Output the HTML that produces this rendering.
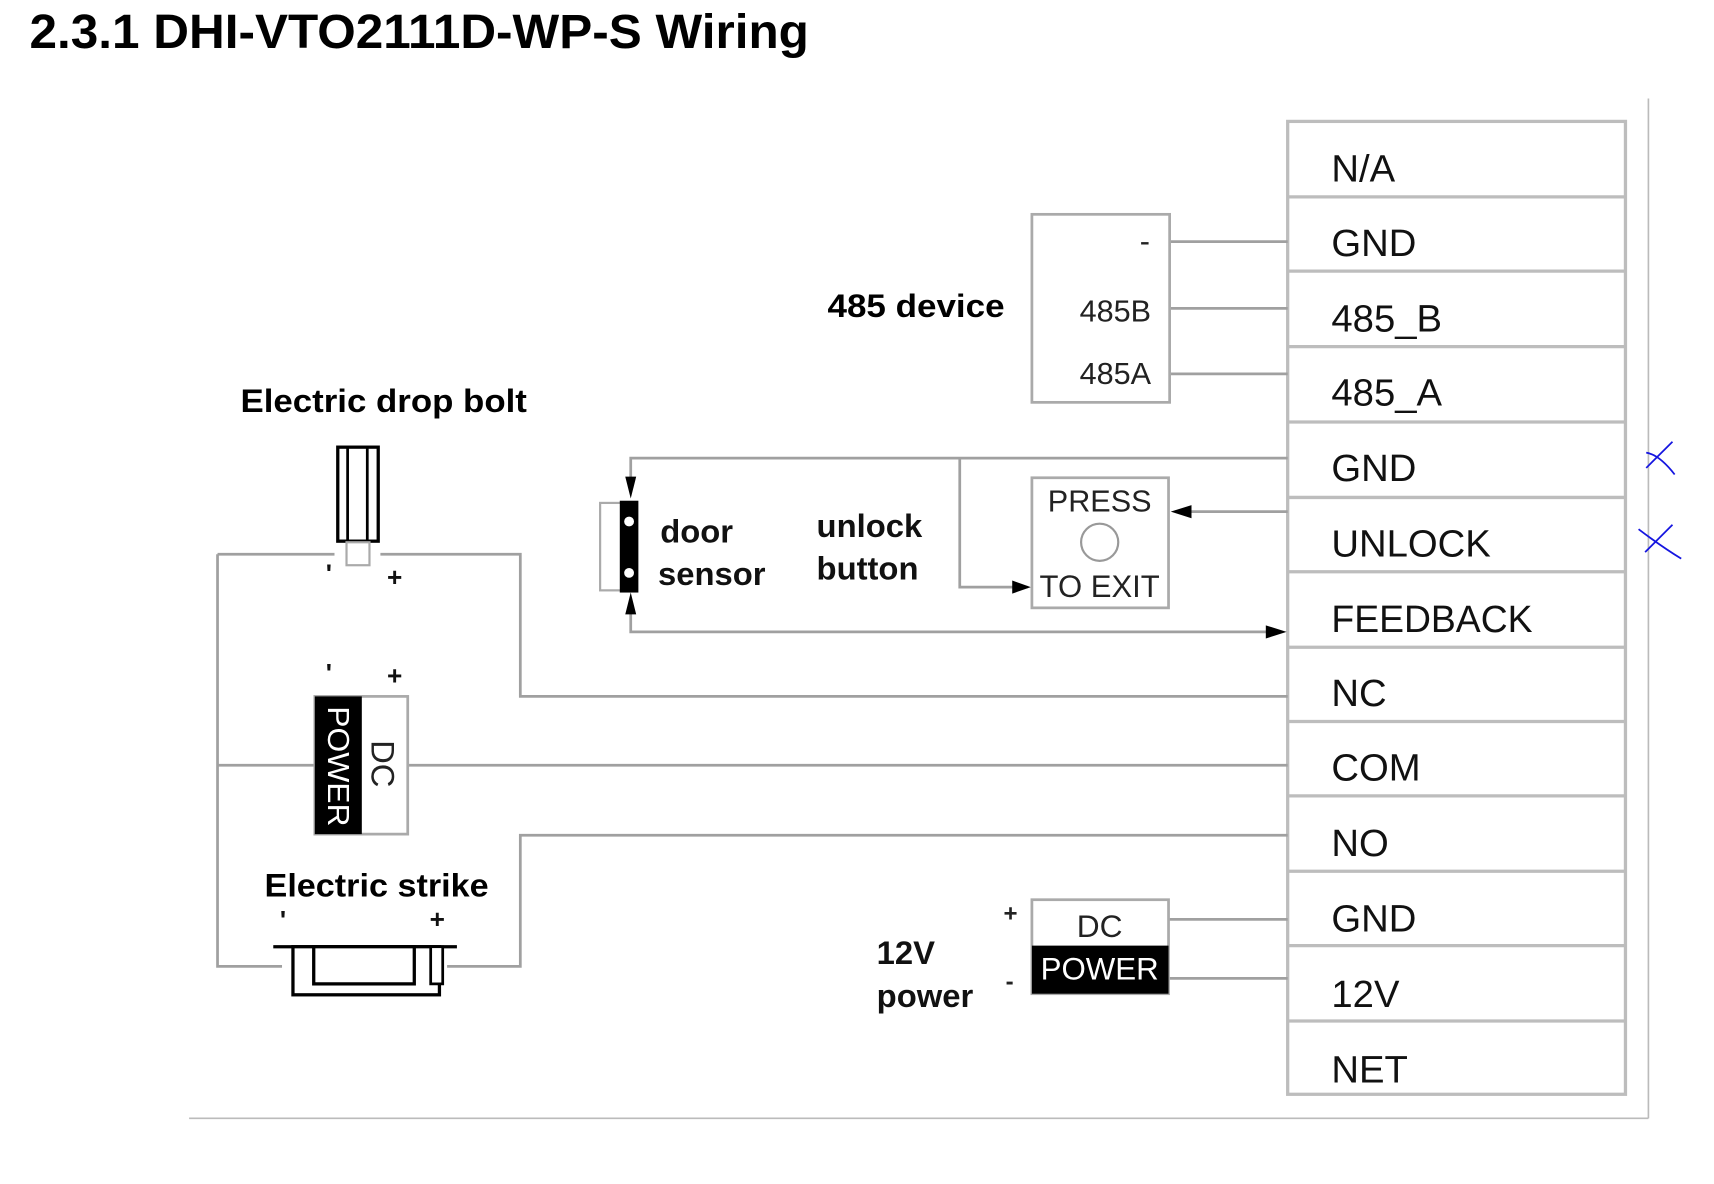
<!DOCTYPE html>
<html><head><meta charset="utf-8"><style>
html,body{margin:0;padding:0;background:#fff;}
svg{display:block;}
text{font-family:"Liberation Sans",sans-serif;}
</style></head><body>
<svg width="1714" height="1184" viewBox="0 0 1568 1083" xmlns="http://www.w3.org/2000/svg">
<text x="27" y="44" font-size="44" font-weight="bold" textLength="713" lengthAdjust="spacingAndGlyphs">2.3.1 DHI-VTO2111D-WP-S Wiring</text>

<g stroke="#bbb" stroke-width="1.5" fill="none">
<line x1="1508" y1="90" x2="1508" y2="1023"/>
<line x1="173" y1="1023" x2="1508" y2="1023"/>
</g>

<g stroke="#bdbdbd" stroke-width="3" fill="none">
<rect x="1178" y="111" width="309" height="890"/>
<line x1="1178" y1="180" x2="1487" y2="180"/>
<line x1="1178" y1="248" x2="1487" y2="248"/>
<line x1="1178" y1="317" x2="1487" y2="317"/>
<line x1="1178" y1="386" x2="1487" y2="386"/>
<line x1="1178" y1="455" x2="1487" y2="455"/>
<line x1="1178" y1="523" x2="1487" y2="523"/>
<line x1="1178" y1="592" x2="1487" y2="592"/>
<line x1="1178" y1="660" x2="1487" y2="660"/>
<line x1="1178" y1="728" x2="1487" y2="728"/>
<line x1="1178" y1="797" x2="1487" y2="797"/>
<line x1="1178" y1="865" x2="1487" y2="865"/>
<line x1="1178" y1="934" x2="1487" y2="934"/>
</g>
<g font-size="35" fill="#111">
<text x="1218" y="166">N/A</text>
<text x="1218" y="234">GND</text>
<text x="1218" y="303">485_B</text>
<text x="1218" y="371">485_A</text>
<text x="1218" y="440">GND</text>
<text x="1218" y="509">UNLOCK</text>
<text x="1218" y="578" textLength="184" lengthAdjust="spacingAndGlyphs">FEEDBACK</text>
<text x="1218" y="646">NC</text>
<text x="1218" y="714">COM</text>
<text x="1218" y="783">NO</text>
<text x="1218" y="852">GND</text>
<text x="1218" y="921">12V</text>
<text x="1218" y="990">NET</text>
</g>
<g stroke="#1515e0" stroke-width="1.6" fill="none">
<path d="M1530,404 L1506,428"/><path d="M1506,414 Q1518,416 1532,434"/>
<path d="M1530,480 L1505,505"/><path d="M1499,484 Q1520,500 1538,511"/>
</g>

<g stroke="#a0a0a0" stroke-width="2.5" fill="none">
<line x1="1070" y1="221" x2="1178" y2="221"/>
<line x1="1070" y1="282" x2="1178" y2="282"/>
<line x1="1070" y1="342" x2="1178" y2="342"/>
<polyline points="577,440 577,419 1178,419"/>
<polyline points="878,419 878,537 940,537"/>
<line x1="1178" y1="468" x2="1075" y2="468"/>
<polyline points="577,558 577,578 1172,578"/>
<polyline points="199,507 306,507"/>
<polyline points="348,507 476,507 476,637 1178,637"/>
<polyline points="199,507 199,884 258,884"/>
<line x1="199" y1="700" x2="288" y2="700"/>
<line x1="373" y1="700" x2="1178" y2="700"/>
<polyline points="409,884 476,884 476,764 1178,764"/>
<line x1="1069" y1="841" x2="1178" y2="841"/>
<line x1="1069" y1="895" x2="1178" y2="895"/>
</g>
<g fill="#000">
<path d="M1071,468 L1090,462 L1090,474 z"/>
<path d="M943,537 L926,531 L926,543 z"/>
<path d="M1177,578 L1158,572 L1158,584 z"/>
<path d="M577,456 L572,436 L582,436 z"/>
<path d="M577,542 L572,562 L582,562 z"/>
</g>

<rect x="944" y="196" width="126" height="172" fill="#fff" stroke="#aaa" stroke-width="2.5"/>
<g font-size="28" fill="#222" text-anchor="end">
<text x="1052" y="230">-</text>
<text x="1053" y="294">485B</text>
<text x="1053" y="351">485A</text>
</g>
<text x="757" y="290" font-size="30" font-weight="bold" textLength="162" lengthAdjust="spacingAndGlyphs">485 device</text>

<rect x="944" y="437" width="125" height="119" fill="#fff" stroke="#aaa" stroke-width="2.5"/>
<text x="1006" y="468" font-size="28" text-anchor="middle" fill="#222">PRESS</text>
<circle cx="1006" cy="496" r="17" fill="none" stroke="#999" stroke-width="2"/>
<text x="1006" y="546" font-size="29" text-anchor="middle" fill="#222" textLength="110" lengthAdjust="spacingAndGlyphs">TO EXIT</text>

<rect x="549" y="460" width="20" height="80" fill="#fff" stroke="#aaa" stroke-width="2"/>
<rect x="567" y="458" width="17" height="84" fill="#000"/>
<circle cx="575.5" cy="477" r="4.5" fill="#fff"/>
<circle cx="575.5" cy="524" r="4.5" fill="#fff"/>
<g font-size="30" font-weight="bold" fill="#111">
<text x="604" y="496">door</text>
<text x="602" y="535">sensor</text>
<text x="747" y="491">unlock</text>
<text x="747" y="530">button</text>
</g>

<text x="220" y="377" font-size="30" font-weight="bold" textLength="262" lengthAdjust="spacingAndGlyphs">Electric drop bolt</text>
<rect x="309" y="409" width="37" height="86" fill="#fff" stroke="#000" stroke-width="3"/>
<line x1="318" y1="410" x2="318" y2="494" stroke="#000" stroke-width="2.5"/>
<line x1="336" y1="410" x2="336" y2="494" stroke="#000" stroke-width="2.5"/>
<rect x="317" y="496" width="21" height="21" fill="#fff" stroke="#aaa" stroke-width="2"/>
<g font-size="24" font-weight="bold" fill="#111">
<text x="298" y="533">'</text><text x="354" y="536">+</text>
<text x="298" y="624">'</text><text x="354" y="626">+</text>
<text x="256" y="850">'</text><text x="393" y="849">+</text>
</g>

<rect x="288" y="637" width="85" height="126" fill="#fff" stroke="#aaa" stroke-width="2.5"/>
<rect x="288" y="637" width="43" height="126" fill="#000"/>
<text transform="translate(300,646) rotate(90)" font-size="28" fill="#fff" textLength="110" lengthAdjust="spacingAndGlyphs">POWER</text>
<text transform="translate(340,677) rotate(90)" font-size="30" fill="#222">DC</text>

<text x="242" y="820" font-size="30" font-weight="bold" textLength="205" lengthAdjust="spacingAndGlyphs">Electric strike</text>
<line x1="250" y1="866" x2="418" y2="866" stroke="#000" stroke-width="3"/>
<rect x="268" y="866" width="134" height="44" fill="#fff" stroke="#000" stroke-width="3"/>
<rect x="287" y="866" width="92" height="34" fill="#fff" stroke="#000" stroke-width="3"/>
<rect x="394" y="866" width="11" height="34" fill="#fff" stroke="#000" stroke-width="2.5"/>

<rect x="944" y="823" width="125" height="86" fill="#fff" stroke="#aaa" stroke-width="2.5"/>
<rect x="944" y="865" width="125" height="44" fill="#000"/>
<text x="1006" y="857" font-size="29" text-anchor="middle" fill="#222">DC</text>
<text x="1006" y="896" font-size="29" text-anchor="middle" fill="#fff" textLength="108" lengthAdjust="spacingAndGlyphs">POWER</text>
<text x="918" y="843" font-size="22" font-weight="bold" fill="#222">+</text>
<text x="920" y="905" font-size="22" font-weight="bold" fill="#222">-</text>
<text x="802" y="882" font-size="30" font-weight="bold" fill="#111">12V</text>
<text x="802" y="921" font-size="30" font-weight="bold" fill="#111">power</text>
</svg>
</body></html>
